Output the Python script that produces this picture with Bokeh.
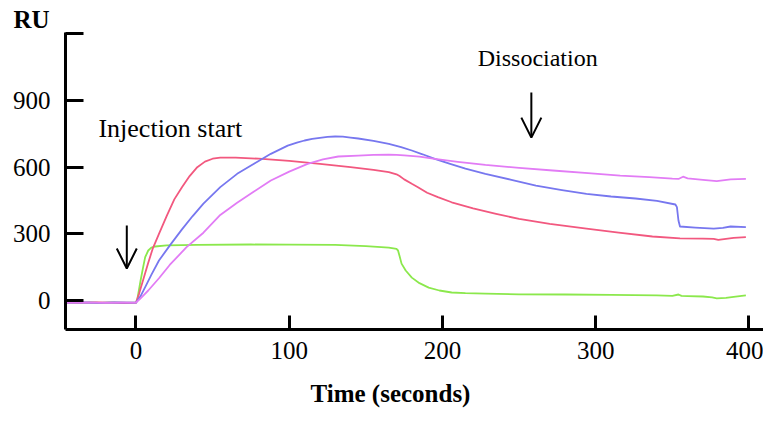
from bokeh.plotting import figure
from bokeh.models import Range1d, FixedTicker, Label, Arrow, OpenHead, Title
from bokeh.embed import file_html
from bokeh.resources import INLINE

# Sensorgram traces: time (s) and response (RU)
green_t = [-46, -38, -30, -22, -14, -6, 0, 1, 3, 4.6, 6, 8, 10, 12.5, 20, 40, 75, 100, 130, 150, 165,
           170, 171, 172, 173.3, 176, 180, 185, 191, 198, 206, 215, 228, 250, 280, 310, 340, 350, 354,
           356, 360, 370, 376, 379, 385, 390, 398]
green_y = [-8, -10, -9, -11, -9, -10, -10, 10, 90, 148, 195, 225, 238, 243, 248, 250, 252, 251, 250, 245, 238,
           232, 225, 200, 166, 135, 103, 78, 58, 45, 36, 33, 31, 28, 27, 25, 23, 21, 27,
           21, 20, 18, 14, 10, 12, 16, 23]

red_t = [-46, -36, -26, -16, -8, 0, 2, 5, 8, 11, 15, 20, 25, 30, 35, 40, 45, 50, 55, 65, 80, 100, 120,
         140, 155, 165, 170, 172, 175, 180, 184, 190, 197, 206, 220, 235, 250, 270, 294, 315, 337, 355,
         370, 377, 380, 390, 398]
red_y = [-9, -11, -8, -10, -12, -10, 30, 100, 170, 235, 300, 380, 455, 510, 560, 600, 625, 638, 643, 643,
         638, 628, 615, 600, 588, 578, 568, 560, 545, 525, 510, 485, 465, 442, 415, 390, 367, 345, 323, 305,
         288, 280, 278, 277, 273, 282, 285]

blue_t = [-46, -34, -24, -14, -6, 0, 3, 6, 10, 15, 22, 30, 37, 44, 55, 66, 77, 88, 99, 105, 110, 115,
          120, 125, 130, 135, 140, 145, 155, 165, 173, 180, 187, 195, 205, 215, 228, 245, 261, 278, 294,
          310, 326, 340, 352, 353, 354, 355, 365, 377, 383, 388, 398]
blue_y = [-10, -9, -11, -8, -10, -10, 20, 60, 115, 180, 247, 320, 380, 436, 510, 570, 615, 660, 697, 710,
          720, 727, 732, 736, 738, 737, 733, 729, 718, 705, 690, 675, 658, 637, 615, 593, 570, 543, 517,
          497, 480, 468, 459, 448, 432, 420, 360, 333, 328, 323, 327, 333, 330]

violet_t = [-46, -32, -20, -10, 0, 3, 8, 15, 22, 33, 44, 55, 66, 77, 88, 100, 112, 122, 132, 145, 155,
            165, 170, 175, 185, 195, 210, 228, 250, 272, 295, 316, 335, 350, 354, 357, 360, 370, 379, 388,
            398]
violet_y = [-10, -8, -11, -9, -10, 10, 45, 100, 160, 240, 305, 385, 440, 490, 540, 580, 615, 635, 648, 652,
            655, 656, 655, 653, 647, 637, 624, 610, 597, 585, 573, 562, 555, 548, 547, 557, 550, 543, 537,
            545, 547]

x_ticks = [0, 100, 200, 300, 400]
y_ticks = [0, 300, 600, 900, 1200]
y_tick_labels = {1200: ""}

SERIF = "Liberation Serif"

p = figure(width=763, height=423, output_backend="svg", toolbar_location=None,
           x_range=Range1d(-46, 409.5), y_range=Range1d(-130.5, 1206),
           min_border_left=65, min_border_right=0, min_border_top=32, min_border_bottom=94)
p.outline_line_color = None
p.grid.visible = False
p.background_fill_color = "white"
p.border_fill_color = "white"

for t, y, c in [(green_t, green_y, "#8be84c"), (red_t, red_y, "#f2587f"),
                (blue_t, blue_y, "#7777ef"), (violet_t, violet_y, "#e27cf5")]:
    p.line(t, y, line_color=c, line_width=1.8, line_join="round")

for ax in (p.xaxis[0], p.yaxis[0]):
    ax.axis_line_width = 3
    ax.axis_line_color = "black"
    ax.major_tick_line_width = 3
    ax.major_tick_line_color = "black"
    ax.minor_tick_line_color = None
    ax.major_tick_out = 0
    ax.major_label_text_font = SERIF
    ax.major_label_text_font_size = "25px"
    ax.major_label_text_color = "black"

p.xaxis[0].ticker = FixedTicker(ticks=x_ticks)
p.xaxis[0].major_tick_in = 14
p.xaxis[0].major_label_standoff = 12

p.yaxis[0].ticker = FixedTicker(ticks=y_ticks)
p.yaxis[0].major_label_overrides = y_tick_labels
p.yaxis[0].major_tick_in = 18
p.yaxis[0].major_label_standoff = 15

# Axis titles
p.add_layout(Title(text="RU", align="left", offset=-52, standoff=0, text_font=SERIF,
                   text_font_size="25px", text_font_style="bold", text_color="black"), "above")
p.add_layout(Title(text="Time (seconds)", align="left", offset=245, standoff=33, text_font=SERIF,
                   text_font_size="25px", text_font_style="bold", text_color="black"), "below")

# Event annotations
p.add_layout(Label(x=-24.5, y=711, text="Injection start", text_font=SERIF, text_font_size="26px",
                   text_color="black"))
p.add_layout(Label(x=223, y=1032, text="Dissociation", text_font=SERIF, text_font_size="24px",
                   text_color="black"))
p.add_layout(Arrow(end=OpenHead(size=20, line_width=2, line_color="black"),
                   x_start=-6, y_start=337, x_end=-6, y_end=144, line_width=2, line_color="black"))
p.add_layout(Arrow(end=OpenHead(size=20, line_width=2, line_color="black"),
                   x_start=258, y_start=936, x_end=258, y_end=733, line_width=2, line_color="black"))

open("out.html", "w").write(file_html(p, INLINE))
